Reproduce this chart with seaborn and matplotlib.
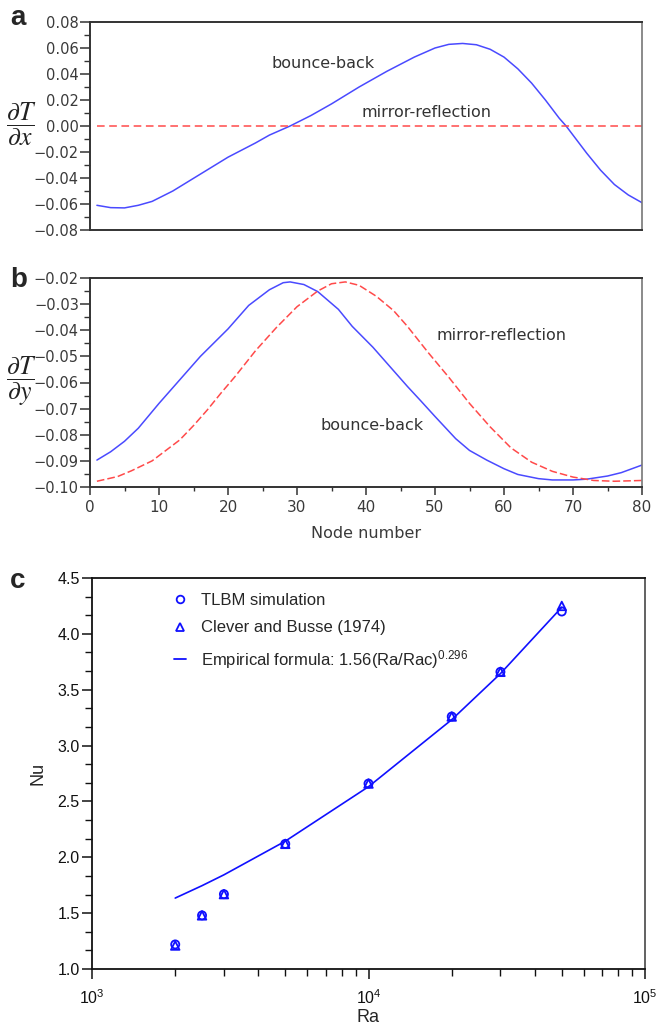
import numpy as np
import pandas as pd
import matplotlib
matplotlib.use("Agg")
import matplotlib.pyplot as plt
import seaborn as sns
from matplotlib.ticker import MultipleLocator, FuncFormatter, LogLocator, NullFormatter
from matplotlib.lines import Line2D

# ---------------- data ----------------
# panel a: dT/dx along boundary
a_bb_node = [1, 3, 5, 7, 9, 12, 16, 20, 24, 26, 29, 32, 35, 39, 43, 47, 50, 52, 54,
             56, 58, 60, 62, 64, 66, 68, 69, 72, 74, 76, 78, 80]
a_bb_val = [-0.061, -0.0628, -0.063, -0.061, -0.058, -0.050, -0.037, -0.024, -0.013,
            -0.007, 0.000, 0.008, 0.017, 0.030, 0.042, 0.053, 0.060, 0.0628, 0.0635,
            0.0625, 0.059, 0.053, 0.044, 0.033, 0.020, 0.006, 0.000, -0.021, -0.034,
            -0.045, -0.053, -0.059]
a_mr_node = [1, 80]
a_mr_val = [0.0, 0.0]

# panel b: dT/dy along boundary
b_bb_node = [1, 3, 5, 7, 10, 13, 16, 20, 23, 26, 28, 29, 31, 33, 36, 38, 41, 43, 46,
             48, 50, 53, 55, 57.5, 60, 62, 65, 67, 70, 72, 75, 77, 80]
b_bb_val = [-0.0897, -0.0865, -0.0825, -0.0775, -0.068, -0.059, -0.050, -0.0395,
            -0.0305, -0.0245, -0.0218, -0.0215, -0.0225, -0.0252, -0.032, -0.0385,
            -0.0465, -0.0525, -0.0615, -0.0672, -0.073, -0.0815, -0.086, -0.0897,
            -0.093, -0.0952, -0.0968, -0.0973, -0.0973, -0.097, -0.0958, -0.0945,
            -0.0916]
b_mr_node = [1, 4, 6, 9, 11, 13, 15, 17, 19, 21, 24, 27, 30, 33, 35, 37, 39, 41.5,
             44, 46, 49, 52, 55, 58, 61, 64, 67, 70, 73, 76, 80]
b_mr_val = [-0.0978, -0.096, -0.0938, -0.090, -0.086, -0.082, -0.0765, -0.0705,
            -0.064, -0.0578, -0.0478, -0.039, -0.031, -0.025, -0.0222, -0.0215,
            -0.0228, -0.027, -0.0325, -0.0385, -0.0485, -0.058, -0.068, -0.077,
            -0.085, -0.0905, -0.094, -0.0962, -0.0975, -0.0978, -0.0975]

# panel c: Nu vs Ra
ra = [2000, 2500, 3000, 5000, 10000, 20000, 30000, 50000]
nu_tlbm = [1.22, 1.48, 1.67, 2.12, 2.66, 3.26, 3.66, 4.20]
nu_cb = [1.21, 1.48, 1.67, 2.12, 2.66, 3.26, 3.66, 4.25]
nu_emp = [1.635, 1.746, 1.843, 2.144, 2.632, 3.232, 3.644, 4.238]

legend_labels = ["TLBM simulation", "Clever and Busse (1974)",
                 "Empirical formula: 1.56(Ra/Rac)$^{0.296}$"]

# ---------------- style ----------------
sns.set_style("ticks")
plt.rcParams["font.family"] = ["DejaVu Sans"]
plt.rcParams["mathtext.fontset"] = "custom"
plt.rcParams["mathtext.rm"] = "Liberation Sans"
plt.rcParams["mathtext.it"] = "Liberation Sans:italic"
plt.rcParams["mathtext.bf"] = "Liberation Sans:bold"
plt.rcParams["mathtext.sf"] = "Liberation Sans"

BLUE_AB = "#4a4aff"
RED_AB = "#ff4a4a"
BLUE_C = "#1010ff"
GRAY_TXT = "#333333"

fig = plt.figure(figsize=(6.56, 10.26), dpi=100)
W, H = 656.0, 1026.0


def axes_px(l, t, r, b):
    return fig.add_axes([l / W, 1 - b / H, (r - l) / W, (b - t) / H])


def minus_fmt(v, pos):
    if abs(v) < 1e-9:
        v = 0.0
    return f"{v:.2f}".replace("-", "\u2212")


def style_ab(ax):
    for side in ["left", "bottom", "top"]:
        ax.spines[side].set_color("#333333")
        ax.spines[side].set_linewidth(1.4)
    ax.spines["right"].set_color("#777777")
    ax.spines["right"].set_linewidth(1.2)
    ax.tick_params(axis="y", which="major", direction="out", length=7, width=1.1,
                   color="#333333", labelsize=10.5, labelcolor="#3a3a3a", pad=1,
                   left=True, right=False)
    ax.tick_params(axis="y", which="minor", direction="out", length=4, width=1.0,
                   color="#333333", left=True, right=False)
    ax.yaxis.set_major_formatter(FuncFormatter(minus_fmt))


# ---------------- panel a ----------------
axa = axes_px(90, 22, 642, 230)
sns.lineplot(x=a_bb_node, y=a_bb_val, ax=axa, color=BLUE_AB, linewidth=1.1)
sns.lineplot(x=a_mr_node, y=a_mr_val, ax=axa, color=RED_AB, linewidth=1.1,
             linestyle=(0, (5, 3)))
axa.set_xlim(0, 80)
axa.set_ylim(-0.08, 0.08)
axa.yaxis.set_major_locator(MultipleLocator(0.02))
axa.yaxis.set_minor_locator(MultipleLocator(0.01))
style_ab(axa)
axa.tick_params(axis="x", which="both", bottom=False, labelbottom=False, top=False)
axa.text(33.8, 0.0477, "bounce-back", ha="center", va="center", fontsize=11.5,
         color=GRAY_TXT)
axa.text(48.7, 0.0105, "mirror-reflection", ha="center", va="center", fontsize=11.5,
         color=GRAY_TXT)
fig.text(21 / W, 1 - 124 / H, r"$\dfrac{\partial T}{\partial x}$", ha="center",
         va="center", fontsize=18.5, math_fontfamily="stix", color="#222222")

# ---------------- panel b ----------------
axb = axes_px(90, 278, 642, 487)
sns.lineplot(x=b_bb_node, y=b_bb_val, ax=axb, color=BLUE_AB, linewidth=1.1)
sns.lineplot(x=b_mr_node, y=b_mr_val, ax=axb, color=RED_AB, linewidth=1.1,
             linestyle=(0, (5, 2)))
axb.set_xlim(0, 80)
axb.set_ylim(-0.10, -0.02)
axb.yaxis.set_major_locator(MultipleLocator(0.01))
axb.yaxis.set_minor_locator(MultipleLocator(0.005))
axb.xaxis.set_major_locator(MultipleLocator(10))
axb.xaxis.set_minor_locator(MultipleLocator(5))
style_ab(axb)
axb.tick_params(axis="x", which="major", direction="out", length=6, width=1.1,
                color="#333333", labelsize=11, labelcolor="#3a3a3a", pad=3,
                bottom=True, top=False)
axb.tick_params(axis="x", which="minor", direction="out", length=3, width=1.0,
                color="#333333", bottom=True, top=False)
axb.set_xlabel("Node number", fontsize=11.5, color="#3a3a3a", labelpad=8)
axb.set_ylabel("")
axb.text(59.7, -0.0422, "mirror-reflection", ha="center", va="center", fontsize=11.5,
         color=GRAY_TXT)
axb.text(40.9, -0.0763, "bounce-back", ha="center", va="center", fontsize=11.5,
         color=GRAY_TXT)
fig.text(21 / W, 1 - 381 / H, r"$\dfrac{\partial T}{\partial y}$", ha="center",
         va="center", fontsize=18.5, math_fontfamily="stix", color="#222222")

# ---------------- panel c ----------------
axc = axes_px(92, 578, 645, 969)
sns.lineplot(x=ra, y=nu_emp, ax=axc, color=BLUE_C, linewidth=1.2)
sns.scatterplot(x=ra, y=nu_tlbm, ax=axc, marker="o", s=34, facecolor="none",
                edgecolor=BLUE_C, linewidth=1.3, zorder=3)
sns.scatterplot(x=ra, y=nu_cb, ax=axc, marker="^", s=38, facecolor="none",
                edgecolor=BLUE_C, linewidth=1.3, zorder=3)
axc.set_xscale("log")
axc.set_xlim(1e3, 1e5)
axc.set_ylim(1.0, 4.5)
axc.yaxis.set_major_locator(MultipleLocator(0.5))
axc.yaxis.set_minor_locator(MultipleLocator(0.5 / 3))
axc.yaxis.set_major_formatter(FuncFormatter(lambda v, p: f"{v:.1f}"))
axc.xaxis.set_major_locator(LogLocator(base=10, numticks=5))
axc.xaxis.set_minor_locator(LogLocator(base=10, subs=np.arange(2, 10), numticks=20))
axc.xaxis.set_minor_formatter(NullFormatter())
axc.xaxis.set_major_formatter(
    FuncFormatter(lambda v, p: r"10$^{\mathregular{%d}}$" % round(np.log10(v))))
for s in axc.spines.values():
    s.set_color("#111111")
    s.set_linewidth(1.3)
axc.spines["right"].set_color("#555555")
axc.tick_params(axis="both", which="major", direction="out", length=7, width=1.1,
                color="#111111", labelsize=11.5, labelcolor="#111111")
axc.tick_params(axis="both", which="minor", direction="out", length=5, width=1.0,
                color="#111111")
axc.tick_params(axis="y", which="both", left=True, right=False, pad=2)
axc.tick_params(axis="x", which="both", bottom=True, top=False, pad=7)
axc.tick_params(axis="x", which="major", labelsize=11.5)
for lbl in axc.get_yticklabels() + axc.get_xticklabels():
    lbl.set_fontfamily("Liberation Sans")
axc.set_xlabel("Ra", fontsize=13, family="Liberation Sans", labelpad=1)
axc.set_ylabel("Nu", fontsize=13, family="Liberation Sans", labelpad=8)

handles = [
    Line2D([], [], linestyle="none", marker="o", markersize=5.5, markerfacecolor="none",
           markeredgecolor=BLUE_C, markeredgewidth=1.3),
    Line2D([], [], linestyle="none", marker="^", markersize=6, markerfacecolor="none",
           markeredgecolor=BLUE_C, markeredgewidth=1.3),
    Line2D([], [], color=BLUE_C, linewidth=1.3),
]
leg = axc.legend(handles, legend_labels, loc="upper left",
                 bbox_to_anchor=(0.148, 0.962), frameon=False, borderpad=0,
                 borderaxespad=0, handlelength=0.7, handletextpad=0.95,
                 labelspacing=0.75, prop={"family": "Liberation Sans", "size": 12})

# panel letters
fig.text(10 / W, 1 - 18 / H, "a", fontsize=20, fontweight="bold",
         family="Liberation Sans", ha="left", va="center")
fig.text(10 / W, 1 - 280 / H, "b", fontsize=20, fontweight="bold",
         family="Liberation Sans", ha="left", va="center")
fig.text(10 / W, 1 - 581 / H, "c", fontsize=20, fontweight="bold",
         family="Liberation Sans", ha="left", va="center")

fig.savefig("out.png", dpi=100)
